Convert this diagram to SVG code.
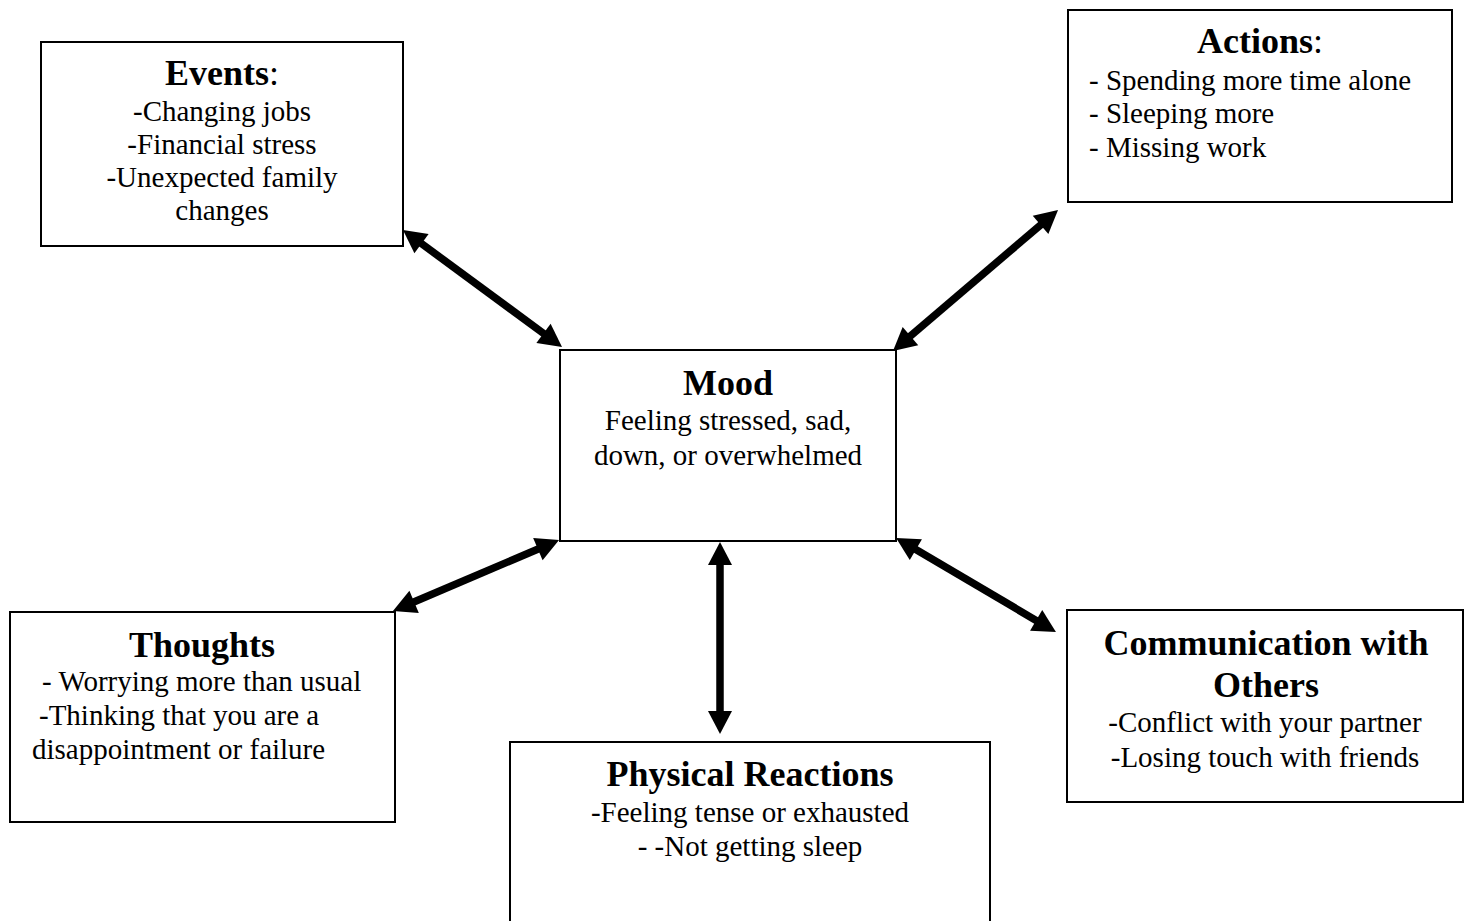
<svg xmlns="http://www.w3.org/2000/svg" width="1470" height="921" viewBox="0 0 1470 921">
<style>
.box{fill:#fff;stroke:#000;stroke-width:2}
.t{font-family:"Liberation Serif","Times New Roman",serif;font-size:36px;font-weight:bold;fill:#000}
.b{font-family:"Liberation Serif","Times New Roman",serif;font-size:29px;fill:#000}
.c{text-anchor:middle}
.n{font-weight:normal}
.arr{stroke:#000;stroke-width:7.5;fill:none;marker-start:url(#ah);marker-end:url(#ah)}
</style>
<defs>
<marker id="ah" markerUnits="userSpaceOnUse" markerWidth="24" markerHeight="24" refX="1" refY="12" orient="auto-start-reverse" overflow="visible">
<path d="M0,0 L23,12 L0,24 z" fill="#000"/>
</marker>
</defs>
<rect width="1470" height="921" fill="#fff"/>
<g id="connectors">
<line class="arr" x1="420.7" y1="243" x2="544.3" y2="334"/>
<line class="arr" x1="1041.3" y1="224.3" x2="909.7" y2="336.7"/>
<line class="arr" x1="538.8" y1="548.7" x2="413.2" y2="602.3"/>
<line class="arr" x1="720" y1="564" x2="720" y2="712"/>
<line class="arr" x1="915" y1="549.1" x2="1037" y2="620.9"/>
</g>
<g id="events">
<rect class="box" x="41" y="42" width="362" height="204"/>
<text class="t c" x="222" y="85">Events<tspan class="n">:</tspan></text>
<text class="b c" x="222" y="121">-Changing jobs</text>
<text class="b c" x="222" y="154">-Financial stress</text>
<text class="b c" x="222" y="187">-Unexpected family</text>
<text class="b c" x="222" y="220">changes</text>
</g>
<g id="actions">
<rect class="box" x="1068" y="10" width="384" height="192"/>
<text class="t c" x="1260" y="53">Actions<tspan class="n">:</tspan></text>
<text class="b" x="1089" y="90">- Spending more time alone</text>
<text class="b" x="1089" y="123">- Sleeping more</text>
<text class="b" x="1089" y="157">- Missing work</text>
</g>
<g id="mood">
<rect class="box" x="560" y="350" width="336" height="191"/>
<text class="t c" x="728" y="395">Mood</text>
<text class="b c" x="728" y="430">Feeling stressed, sad,</text>
<text class="b c" x="728" y="465">down, or overwhelmed</text>
</g>
<g id="thoughts">
<rect class="box" x="10" y="612" width="385" height="210"/>
<text class="t c" x="202" y="657">Thoughts</text>
<text class="b" x="42" y="691">- Worrying more than usual</text>
<text class="b" x="39" y="725">-Thinking that you are a</text>
<text class="b" x="32" y="759">disappointment or failure</text>
</g>
<g id="physical">
<rect class="box" x="510" y="742" width="480" height="200"/>
<text class="t c" x="750" y="786">Physical Reactions</text>
<text class="b c" x="750" y="822">-Feeling tense or exhausted</text>
<text class="b c" x="750" y="856">- -Not getting sleep</text>
</g>
<g id="communication">
<rect class="box" x="1067" y="610" width="396" height="192"/>
<text class="t c" x="1266" y="655">Communication with</text>
<text class="t c" x="1266" y="697">Others</text>
<text class="b c" x="1265" y="732">-Conflict with your partner</text>
<text class="b c" x="1265" y="767">-Losing touch with friends</text>
</g>
</svg>
